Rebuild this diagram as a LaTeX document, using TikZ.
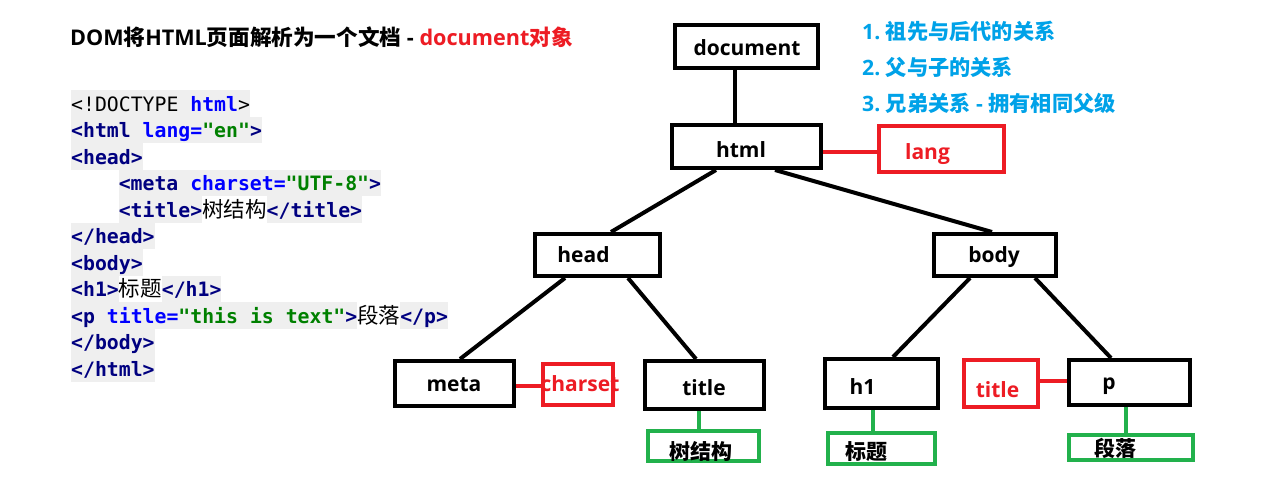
\documentclass[tikz,border=0pt]{standalone}
\usepackage{fontspec}
\usepackage{xcolor}
\setmonofont{DejaVu Sans Mono}
\newfontfamily\latfont{Open Sans}
\newfontfamily\cjkfont{Noto Sans CJK SC}

\definecolor{lblred}{HTML}{ED1C24}
\definecolor{lblgreen}{HTML}{22B14C}
\definecolor{lblblue}{HTML}{00A2E8}
\definecolor{codetag}{HTML}{000080}
\definecolor{codeattr}{HTML}{0000FF}
\definecolor{codeval}{HTML}{008000}
\definecolor{codebg}{HTML}{EFEFEF}

\newcommand\cstrut{\rule[-5.5pt]{0pt}{26.5pt}}
\newcommand\cg[1]{{\setlength\fboxsep{0pt}\colorbox{codebg}{\cstrut#1}}}
\newcommand\ctag[1]{\textcolor{codetag}{\bfseries#1}}
\newcommand\cattr[1]{\textcolor{codeattr}{\bfseries#1}}
\newcommand\cval[1]{\textcolor{codeval}{\bfseries#1}}
\newcommand\czh[1]{{\cjkfont\fontsize{21.5}{26.5}\selectfont#1}}
\newcommand\zh[1]{{\cjkfont\bfseries#1}}
\newcommand\en[1]{{\latfont\bfseries#1}}

\tikzset{
  blk/.style={draw=black, line width=4pt, inner sep=0},
  redbox/.style={draw=lblred, line width=4pt, inner sep=0},
  grnbox/.style={draw=lblgreen, line width=4pt, inner sep=0},
  edge/.style={draw=black, line width=4pt},
  redline/.style={draw=lblred, line width=4pt},
  grnline/.style={draw=lblgreen, line width=4pt},
  lbl/.style={inner sep=0, anchor=base, font=\latfont\bfseries\fontsize{21}{25}\selectfont},
  zhlbl/.style={inner sep=0, font=\cjkfont\bfseries\fontsize{21}{25}\selectfont},
  note/.style={inner sep=0, anchor=west, text=lblblue, font=\fontsize{21.2}{25}\selectfont},
  code/.style={inner sep=0, anchor=north west, align=left, font=\ttfamily\fontsize{19.8}{26.5}\selectfont}
}

\begin{document}
\begin{tikzpicture}[x=1pt,y=-1pt]
        \useasboundingbox[fill=white] (0,0) rectangle (1271,479);

        % Heading and notes
        \node[inner sep=0, anchor=west, font=\fontsize{21.6}{26}\selectfont] (heading) at (70,37)
          {\en{DOM}\zh{将}\en{HTML}\zh{页面解析为一个文档}\en{\ -\ }\textcolor{lblred}{\en{document}\zh{对象}}};
        \node[note] (rel1) at (862,31) {\en{1.\ }\zh{祖先与后代的关系}};
        \node[note] (rel2) at (862,67) {\en{2.\ }\zh{父与子的关系}};
        \node[note] (rel3) at (862,103) {\en{3.\ }\zh{兄弟关系}\en{\ -\ }\zh{拥有相同父级}};

        % Source code
        \node[code] (src) at (71,90) {%
          \cg{<!DOCTYPE \cattr{html}>}\\
          \cg{\ctag{<html} \cattr{lang=}\cval{"en"}\ctag{>}}\\
          \cg{\ctag{<head>}}\\
          \hspace*{47.6pt}\cg{\ctag{<meta} \cattr{charset=}\cval{"UTF-8"}\ctag{>}}\\
          \hspace*{47.6pt}\cg{\ctag{<title>}}\czh{树结构}\cg{\ctag{</title>}}\\
          \cg{\ctag{</head>}}\\
          \cg{\ctag{<body>}}\\
          \cg{\ctag{<h1>}}\czh{标题}\cg{\ctag{</h1>}}\\
          \cg{\ctag{<p} \cattr{title=}\cval{"this is text"}\ctag{>}}\czh{段落}\cg{\ctag{</p>}}\\
          \cg{\ctag{</body>}}\\
          \cg{\ctag{</html>}}};

        % Define the positions of the boxes
        \node[blk, minimum width=143, minimum height=43] (doc) at (746.5,46.5) {};
        \node[blk, minimum width=149, minimum height=43] (html) at (746.5,146.5) {};
        \node[blk, minimum width=125, minimum height=42] (head) at (597.5,255) {};
        \node[blk, minimum width=122, minimum height=42] (body) at (995,255) {};
        \node[blk, minimum width=119, minimum height=45] (meta) at (454.5,383.5) {};
        \node[blk, minimum width=119, minimum height=48] (title) at (704.5,385) {};
        \node[blk, minimum width=113, minimum height=49] (h1) at (881.5,383.5) {};
        \node[blk, minimum width=121, minimum height=45] (p) at (1129.5,382.5) {};
        \node[redbox, minimum width=125, minimum height=46] (lang) at (941.5,149) {};
        \node[redbox, minimum width=70, minimum height=41] (charset) at (578,384.5) {};
        \node[redbox, minimum width=74, minimum height=47] (ptitle) at (1001,383.5) {};
        \node[grnbox, minimum width=111, minimum height=30] (titletext) at (703.5,446) {};
        \node[grnbox, minimum width=107, minimum height=31] (h1text) at (881.5,448.5) {};
        \node[grnbox, minimum width=124, minimum height=25] (ptext) at (1131,447.5) {};

        % Labels
        \node[lbl] (doc-t) at (747,55) {document};
        \node[lbl] (html-t) at (741,157) {html};
        \node[lbl] (head-t) at (583.5,262) {head};
        \node[lbl] (body-t) at (994,262) {body};
        \node[lbl] (meta-t) at (454,391) {meta};
        \node[lbl] (title-t) at (704,395) {title};
        \node[lbl] (h1-t) at (862.5,394) {h1};
        \node[lbl] (p-t) at (1109,389) {p};
        \node[lbl, text=lblred] (lang-t) at (927.5,159) {lang};
        \node[lbl, text=lblred] (charset-t) at (580,391) {charset};
        \node[lbl, text=lblred] (ptitle-t) at (997.5,397) {title};
        \node[zhlbl] (titletext-t) at (701,451) {树结构};
        \node[zhlbl] (h1text-t) at (866.5,452) {标题};
        \node[zhlbl] (ptext-t) at (1115,448) {段落};

        % Draw the edges
        \foreach \from/\fx/\to/\tx in {
          doc/62/html/65, html/46/head/78, html/105/body/60,
          head/32/meta/67, head/95/title/53,
          body/38/h1/70, body/103/p/44}
          \draw[edge] ([xshift=\fx]\from.south west) -- ([xshift=\tx]\to.north west);

        % Attributes and text
        \draw[redline] ([yshift=-5]html.east) -- ([yshift=-5]html.east -| lang.west);
        \draw[redline] ([yshift=-2.5]meta.east) -- ([yshift=-2.5]meta.east -| charset.west);
        \draw[redline] ([yshift=1.5]p.west) -- ([yshift=1.5]p.west -| ptitle.east);
        \draw[grnline] ([xshift=-5.5]title.south) -- ([xshift=-5.5]title.south |- titletext.north);
        \draw[grnline] ([xshift=-8.5]h1.south) -- ([xshift=-8.5]h1.south |- h1text.north);
        \draw[grnline] ([xshift=-3.5]p.south) -- ([xshift=-3.5]p.south |- ptext.north);
    \end{tikzpicture}
\end{document}
